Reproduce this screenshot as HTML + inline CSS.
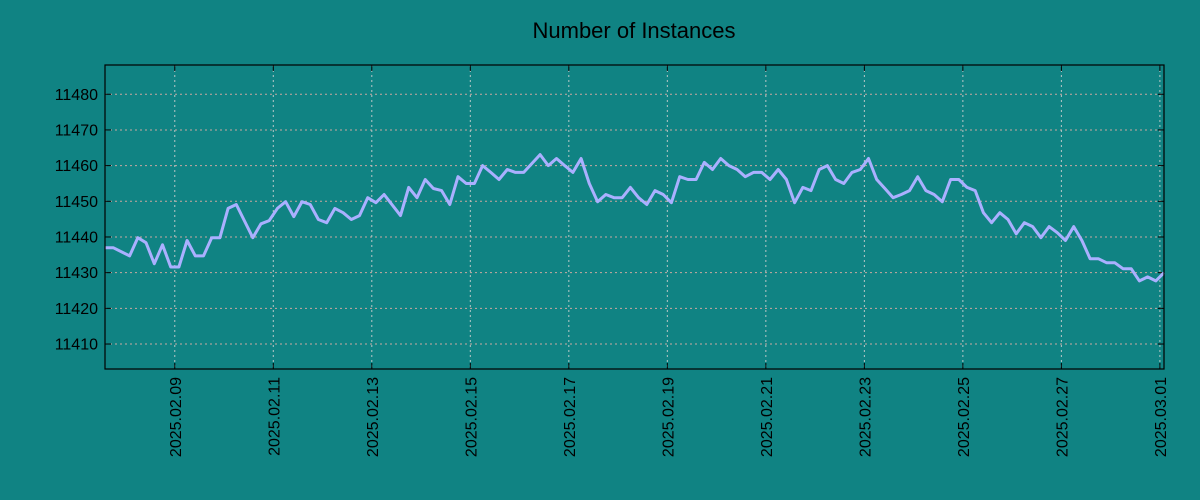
<!DOCTYPE html>
<html><head><meta charset="utf-8"><style>
html,body{margin:0;padding:0;background:#108383;}
svg{display:block;font-family:"Liberation Sans","DejaVu Sans",sans-serif;}
</style></head><body>
<svg id="chart" width="1200" height="500">
<rect width="1200" height="500" fill="#108383"/>
<text x="634" y="38" font-size="22" text-anchor="middle" fill="#000">Number of Instances</text>
<g id="grid"></g><g id="axes"></g><g id="series"></g>
<rect x="105" y="65" width="1059" height="304" fill="none" stroke="#000" stroke-width="1.2"/>
</svg>
<script>
const hours = [0,1,3,4,5,6,7,8,9,10,11,12,13,14,15,16,18,19,20,21,22,23,24,25,26,27,28,29,30,31,32,33,34,36,37,38,39,40,41,42,43,44,45,46,47,48,49,50,51,52,53,54,55,56,57,58,59,60,61,62,63,64,65,66,67,68,69,70,71,72,73,74,75,76,77,78,79,80,81,82,83,84,85,86,87,88,89,90,91,92,93,94,95,96,97,98,99,100,101,102,103,104,105,106,107,108,109,110,111,112,113,114,115,116,117,118,119,120,121,122,123,124,125,126,127,128,129].map(i=>i*4);
const values = [11437,11437,11434.7,11439.8,11438.4,11432.5,11437.8,11431.6,11431.6,11439,11434.7,11434.7,11439.8,11439.8,11448,11449.1,11439.8,11443.7,11444.6,11448,11449.9,11445.7,11449.9,11449.1,11444.9,11444,11448,11446.8,11444.9,11446,11451,11449.6,11451.9,11446,11453.9,11451,11456.1,11453.6,11453,11449.1,11456.9,11455,11455,11460,11458.1,11456.1,11458.9,11458.1,11458.1,11460.6,11463.1,11460,11462,11460,11458.1,11462,11455,11449.9,11451.9,11451,11451,11453.9,11451,11449.1,11453,11451.9,11449.6,11456.9,11456.1,11456.1,11460.9,11458.9,11462,11460,11458.9,11456.9,11458.1,11458.1,11456.1,11458.9,11456.1,11449.6,11453.9,11453,11458.9,11460,11456.1,11455,11458.1,11458.9,11462,11456.1,11453.6,11451,11451.9,11453,11456.9,11453,11451.9,11449.9,11456.1,11456.1,11453.9,11453,11446.8,11444,11446.8,11444.9,11440.9,11444,11442.9,11439.8,11442.9,11441.2,11439,11442.9,11439,11433.9,11433.9,11432.8,11432.8,11431.1,11431.1,11427.7,11428.8,11427.7,11430];
const yTicks = [11410,11420,11430,11440,11450,11460,11470,11480];
const xTickLabels = ["2025.02.09","2025.02.11","2025.02.13","2025.02.15","2025.02.17","2025.02.19","2025.02.21","2025.02.23","2025.02.25","2025.02.27","2025.03.01"];
const xTickHours = [34,82,130,178,226,274,322,370,418,466,514];

const L=105,R=1164,T=65,B=369;
const xMax=129*4, yMin=11403, yMax=11488.2;
const xs=h=>L+h/xMax*(R-L);
const ys=v=>B-(v-yMin)/(yMax-yMin)*(B-T);
const NS="http://www.w3.org/2000/svg";
const grid=document.getElementById('grid'), axes=document.getElementById('axes'), ser=document.getElementById('series');
function mk(tag,attrs,parent){const e=document.createElementNS(NS,tag);for(const k in attrs)e.setAttribute(k,attrs[k]);parent.appendChild(e);return e;}
yTicks.forEach(v=>{
  const y=ys(v);
  const g=mk('line',{x1:L,x2:R,y1:y,y2:y,stroke:'#c8a8a0','stroke-width':1,'stroke-dasharray':'2,3'},grid);
  
  
  mk('line',{x1:L,x2:L+6,y1:y,y2:y,stroke:'#000'},axes);
  mk('line',{x1:R,x2:R-6,y1:y,y2:y,stroke:'#000'},axes);
  const t=mk('text',{x:L-7,y:y+5.5,'font-size':16,'text-anchor':'end',fill:'#000'},axes);
  t.textContent=v;
  
  
});
xTickHours.forEach((h,i)=>{
  const x=xs(h);
  const g=mk('line',{x1:x,x2:x,y1:T,y2:B,stroke:'#b8c8c8','stroke-width':1,'stroke-dasharray':'2,3'},grid);
  
  
  mk('line',{x1:x,x2:x,y1:B,y2:B-6,stroke:'#000'},axes);
  mk('line',{x1:x,x2:x,y1:T,y2:T+6,stroke:'#000'},axes);
  const t=mk('text',{x:0,y:0,'font-size':16,'text-anchor':'end',fill:'#000',transform:`translate(${x+6},${B+8}) rotate(-90)`},axes);
  t.textContent=xTickLabels[i];
  
  
});
const pts=hours.map((h,i)=>xs(h).toFixed(1)+','+ys(values[i]).toFixed(1)).join(' ');
const pl=mk('polyline',{points:pts,fill:'none',stroke:'#aab0ff','stroke-width':3,'stroke-linejoin':'round'},ser);


</script>
</body></html>
